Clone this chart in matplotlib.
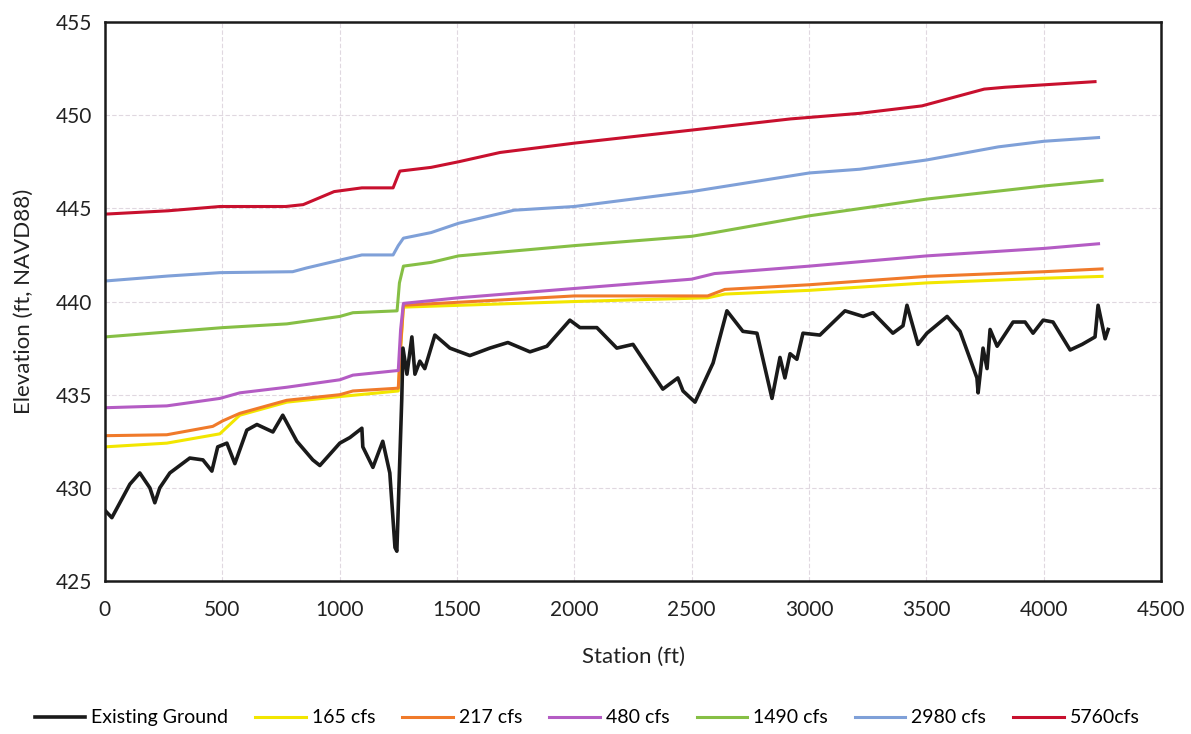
import matplotlib
matplotlib.use("Agg")
import matplotlib.pyplot as plt

plt.rcParams["font.family"] = ["Lato", "DejaVu Sans"]

# Existing ground profile
ground_x = [0, 30, 107, 149, 192, 213, 234, 277, 362, 418, 456, 481, 520, 554, 605, 648,
            716, 758, 818, 886, 916, 1001, 1044, 1095, 1099, 1142, 1184, 1214, 1236, 1244,
            1265, 1270, 1287, 1308, 1321, 1342, 1363, 1406, 1470, 1555, 1640, 1717, 1811,
            1883, 1981, 2024, 2096, 2181, 2250, 2377, 2441, 2463, 2514, 2591, 2650, 2718,
            2778, 2842, 2876, 2897, 2919, 2948, 2974, 3046, 3153, 3230, 3272, 3357, 3400,
            3417, 3464, 3502, 3588, 3643, 3715, 3720, 3741, 3758, 3771, 3801, 3869, 3920,
            3954, 3997, 4039, 4112, 4163, 4218, 4231, 4261, 4274]
ground_y = [428.8, 428.4, 430.2, 430.8, 430.0, 429.2, 430.0, 430.8, 431.6, 431.5, 430.9,
            432.2, 432.4, 431.3, 433.1, 433.4, 433.0, 433.9, 432.5, 431.5, 431.2, 432.4,
            432.7, 433.2, 432.2, 431.1, 432.5, 430.8, 426.8, 426.6, 434.8, 437.5, 436.1,
            438.1, 436.1, 436.8, 436.4, 438.2, 437.5, 437.1, 437.5, 437.8, 437.3, 437.6,
            439.0, 438.6, 438.6, 437.5, 437.7, 435.3, 435.9, 435.2, 434.6, 436.7, 439.5,
            438.4, 438.3, 434.8, 437.0, 435.9, 437.2, 436.9, 438.3, 438.2, 439.5, 439.2,
            439.4, 438.3, 438.7, 439.8, 437.7, 438.3, 439.2, 438.4, 435.9, 435.1, 437.5,
            436.4, 438.5, 437.6, 438.9, 438.9, 438.3, 439.0, 438.9, 437.4, 437.7, 438.1,
            439.8, 438.0, 438.5]

# Water surface profiles
q165_x = [0, 264, 490, 575, 775, 1001, 1250, 1260, 1272, 2000, 2568, 2641, 3001, 3502, 4000, 4248]
q165_y = [432.2, 432.4, 432.9, 433.9, 434.6, 434.9, 435.2, 437.5, 439.7, 440.0, 440.2, 440.4,
          440.6, 441.0, 441.25, 441.35]

q217_x = [0, 264, 460, 503, 575, 775, 1001, 1057, 1250, 1260, 1272, 2000, 2568, 2641, 3001,
          3502, 4000, 4248]
q217_y = [432.8, 432.85, 433.3, 433.6, 434.0, 434.7, 435.0, 435.2, 435.35, 437.6, 439.8, 440.3,
          440.3, 440.65, 440.9, 441.35, 441.6, 441.75]

q480_x = [0, 264, 490, 575, 775, 1001, 1057, 1250, 1260, 1272, 1507, 2000, 2500, 2597, 3001,
          3502, 4000, 4233]
q480_y = [434.3, 434.4, 434.8, 435.1, 435.4, 435.8, 436.05, 436.3, 438.5, 439.9, 440.2, 440.7,
          441.2, 441.5, 441.9, 442.45, 442.85, 443.1]

q1490_x = [0, 503, 775, 1001, 1057, 1245, 1255, 1272, 1390, 1507, 2000, 2500, 2597, 3001, 3502,
           4000, 4248]
q1490_y = [438.1, 438.6, 438.8, 439.2, 439.4, 439.5, 441.0, 441.9, 442.1, 442.45, 443.0, 443.5,
           443.7, 444.6, 445.5, 446.2, 446.5]

q2980_x = [0, 270, 491, 800, 859, 1095, 1228, 1250, 1272, 1390, 1507, 1743, 2000, 2500, 3001,
           3216, 3502, 3806, 4000, 4233]
q2980_y = [441.1, 441.37, 441.55, 441.6, 441.8, 442.5, 442.5, 443.0, 443.4, 443.7, 444.2, 444.9,
           445.1, 445.9, 446.9, 447.1, 447.6, 448.3, 448.6, 448.8]

q5760_x = [0, 270, 491, 771, 845, 977, 1095, 1228, 1250, 1257, 1390, 1507, 1684, 2000, 2500,
           2921, 3216, 3481, 3746, 3835, 4218]
q5760_y = [444.69, 444.87, 445.1, 445.1, 445.2, 445.9, 446.1, 446.1, 446.8, 447.0, 447.2, 447.5,
           448.0, 448.5, 449.2, 449.8, 450.1, 450.5, 451.4, 451.5, 451.8]

fig = plt.figure(figsize=(11.91, 7.34), dpi=100)
ax = fig.add_axes([0.088, 0.2084, 0.887, 0.7616])

ax.plot(ground_x, ground_y, color="#1a1a1a", lw=2.6, label="Existing Ground", zorder=5)
ax.plot(q165_x, q165_y, color="#f2e600", lw=2.2, label="165 cfs")
ax.plot(q217_x, q217_y, color="#f07a2a", lw=2.2, label="217 cfs")
ax.plot(q480_x, q480_y, color="#b45cc4", lw=2.2, label="480 cfs")
ax.plot(q1490_x, q1490_y, color="#86bf45", lw=2.2, label="1490 cfs")
ax.plot(q2980_x, q2980_y, color="#7fa0d8", lw=2.2, label="2980 cfs")
ax.plot(q5760_x, q5760_y, color="#c8102e", lw=2.2, label="5760cfs")

ax.set_xlim(0, 4500)
ax.set_ylim(425, 455)
ax.set_xticks(range(0, 4501, 500))
ax.set_yticks(range(425, 456, 5))
ax.grid(True, color="#e0d8e0", lw=0.8, linestyle=(0, (4, 2)))
ax.set_axisbelow(True)
for s in ax.spines.values():
    s.set_color("#1a1a1a")
    s.set_linewidth(1.8)
ax.tick_params(length=0, labelsize=15, colors="#222222")
ax.tick_params(axis="x", pad=14)
ax.tick_params(axis="y", pad=9)

ax.set_xlabel("Station (ft)", fontsize=16, color="#222222", labelpad=19)
ax.set_ylabel("Elevation (ft, NAVD88)", fontsize=16, color="#222222", labelpad=16)

fig.legend(loc="center", bbox_to_anchor=(0.493, 0.022), ncol=7, frameon=False,
           fontsize=14, handlelength=2.6, columnspacing=1.4, handletextpad=0.3)

fig.savefig("out.png", dpi=100)
